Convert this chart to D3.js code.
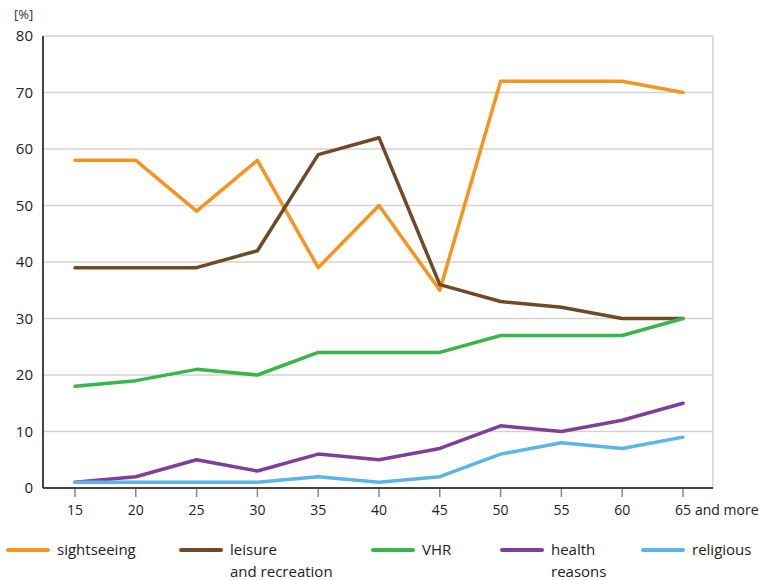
<!DOCTYPE html>
<html>
<head>
<meta charset="utf-8">
<script src="https://cdn.jsdelivr.net/npm/d3@7"></script>
<style>
  body { margin: 0; background: #fff; }
  text { font-family: "Open Sans", Lato, sans-serif; }
</style>
</head>
<body>
<svg id="chart" width="759" height="580"></svg>
<script>
// Age groups and shares (%) by travel purpose
const ages = ['15', '20', '25', '30', '35', '40', '45', '50', '55', '60', '65'];
const yTicks = [0, 10, 20, 30, 40, 50, 60, 70, 80];

const sightseeing = [58, 58, 49, 58, 39, 50, 35, 72, 72, 72, 70];
const leisure     = [39, 39, 39, 42, 59, 62, 36, 33, 32, 30, 30];
const vhr         = [18, 19, 21, 20, 24, 24, 24, 27, 27, 27, 30];
const health      = [1, 2, 5, 3, 6, 5, 7, 11, 10, 12, 15];
const religious   = [1, 1, 1, 1, 2, 1, 2, 6, 8, 7, 9];

const seriesNames = ['sightseeing', 'leisure|and recreation', 'VHR', 'health|reasons', 'religious'];
const seriesVals  = [sightseeing, leisure, vhr, health, religious];
const colors      = ['#F7941D', '#6E4A27', '#3AB54A', '#7D3F98', '#5DB4E6'];

const svg = d3.select('#chart');
const pLeft = 43, pRight = 713, pTop = 36, pBottom = 488;

const x = d3.scalePoint().domain(ages).range([75, 683]);
const y = d3.scaleLinear().domain([0, 80]).range([pBottom, pTop]);

// Grid lines
svg.append('g').selectAll('line').data(yTicks.filter(d => d > 0)).join('line')
  .attr('x1', pLeft).attr('x2', pRight)
  .attr('y1', d => y(d)).attr('y2', d => y(d))
  .attr('stroke', '#d2d2d2').attr('stroke-width', 1.5);

// Right border
svg.append('line')
  .attr('x1', pRight).attr('x2', pRight).attr('y1', pTop).attr('y2', pBottom)
  .attr('stroke', '#d2d2d2').attr('stroke-width', 1.5);

// Y labels
svg.append('g').selectAll('text').data(yTicks).join('text')
  .attr('x', 33).attr('y', d => y(d)).attr('dy', '0.35em')
  .attr('text-anchor', 'end').attr('font-size', 15).attr('fill', '#222')
  .text(d => d);

svg.append('text').attr('x', 14).attr('y', 19)
  .attr('font-size', 13).attr('fill', '#333').text('[%]');

// X ticks and labels
svg.append('g').selectAll('line').data(ages).join('line')
  .attr('x1', d => x(d)).attr('x2', d => x(d))
  .attr('y1', pBottom).attr('y2', pBottom + 9)
  .attr('stroke', '#888').attr('stroke-width', 1.5);

svg.append('g').selectAll('text').data(ages).join('text')
  .attr('x', d => x(d)).attr('y', 515)
  .attr('text-anchor', 'middle').attr('font-size', 14).attr('fill', '#222')
  .text(d => d);

svg.append('text').attr('x', x('65') + 12).attr('y', 515)
  .attr('font-size', 14).attr('fill', '#222').text('and more');

// Lines
const line = d3.line().x((d, i) => x(ages[i])).y(d => y(d));
seriesVals.forEach((vals, k) => {
  svg.append('path').datum(vals)
    .attr('d', line)
    .attr('fill', 'none').attr('stroke', colors[k])
    .attr('stroke-width', 3.5).attr('stroke-linejoin', 'round').attr('stroke-linecap', 'round');
});

// Axes
svg.append('line').attr('x1', pLeft).attr('x2', pLeft).attr('y1', pTop).attr('y2', pBottom)
  .attr('stroke', '#444').attr('stroke-width', 2);
svg.append('line').attr('x1', pLeft).attr('x2', pRight).attr('y1', pBottom).attr('y2', pBottom)
  .attr('stroke', '#444').attr('stroke-width', 2);

// Legend
const legendX = [8, 181, 373, 502, 643];
seriesNames.forEach((name, k) => {
  const g = svg.append('g').attr('transform', `translate(${legendX[k]},550)`);
  g.append('line').attr('x1', 0).attr('x2', 40).attr('y1', 0).attr('y2', 0)
    .attr('stroke', colors[k]).attr('stroke-width', 4).attr('stroke-linecap', 'round');
  const t = g.append('text').attr('x', 49).attr('y', 5)
    .attr('font-size', 15).attr('fill', '#222');
  name.split('|').forEach((part, j) => {
    t.append('tspan').attr('x', 49).attr('dy', j === 0 ? 0 : 22).text(part);
  });
});
</script>
</body>
</html>
